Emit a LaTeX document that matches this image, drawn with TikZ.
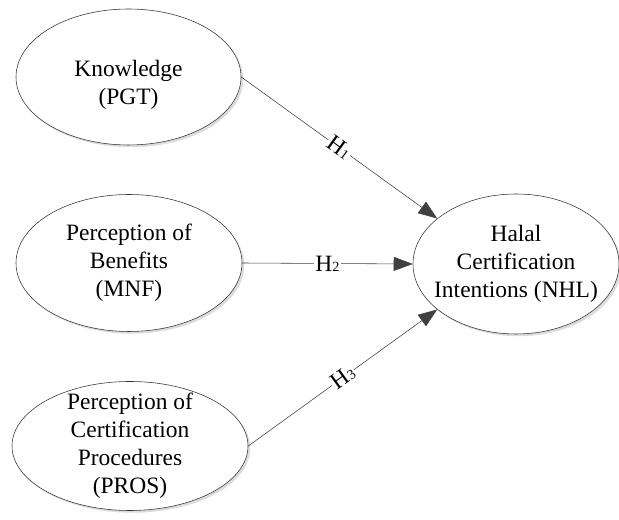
\documentclass[tikz,border=0pt]{standalone}
\usepackage{fontspec}
\setmainfont{Liberation Serif}
\usepackage{tikz}
\usetikzlibrary{shapes.geometric, positioning, arrows.meta, shadows}
\definecolor{edgegray}{RGB}{64, 64, 64}
\newcommand{\hsub}[1]{H{\fontsize{10}{10}\selectfont #1}}

\begin{document}
\begin{tikzpicture}[
  construct/.style={ellipse, draw=black!80, fill=white, thin, inner sep=0pt,
    drop shadow={shadow xshift=1.6pt, shadow yshift=-1.6pt, fill=black!30, opacity=0.45}},
  ctext/.style={align=center, font=\fontsize{16.7}{19.9}\selectfont, inner sep=0pt},
  path/.style={draw=edgegray, thin, -{Triangle[length=4.75mm, width=3.5mm]}},
  hyp/.style={midway, sloped, fill=white, inner sep=1pt, font=\fontsize{16.7}{19.9}\selectfont}
]
  \useasboundingbox (0,0) rectangle (15.475,13);

  \node[construct, minimum width=56.25mm, minimum height=34mm] (pgt) at (3.2125,11.075) {};
  \node[ctext] (pgt-t) at ([yshift=-2mm]pgt.center) {Knowledge\\(PGT)};

  \node[construct, minimum width=56.5mm, minimum height=34.25mm] (mnf) at (3.225,6.425) {};
  \node[ctext] (mnf-t) at (mnf) {Perception of\\Benefits\\(MNF)};

  \node[construct, minimum width=59mm, minimum height=32.25mm] (pros) at (3.25,1.85) {};
  \node[ctext] (pros-t) at (pros) {Perception of\\Certification\\Procedures\\(PROS)};

  \node[construct, minimum width=51.5mm, minimum height=35mm] (nhl) at (12.9,6.4) {};
  \node[ctext] (nhl-t) at (nhl) {Halal\\Certification\\Intentions (NHL)};

  \draw[path] (pgt.east) -- node[hyp] {\hsub{1}} (nhl.150);
  \draw[path] (mnf.east) -- node[hyp] {\hsub{2}} (nhl.west);
  \draw[path] (pros.east) -- node[hyp] {\hsub{3}} (nhl.210);
\end{tikzpicture}
\end{document}
